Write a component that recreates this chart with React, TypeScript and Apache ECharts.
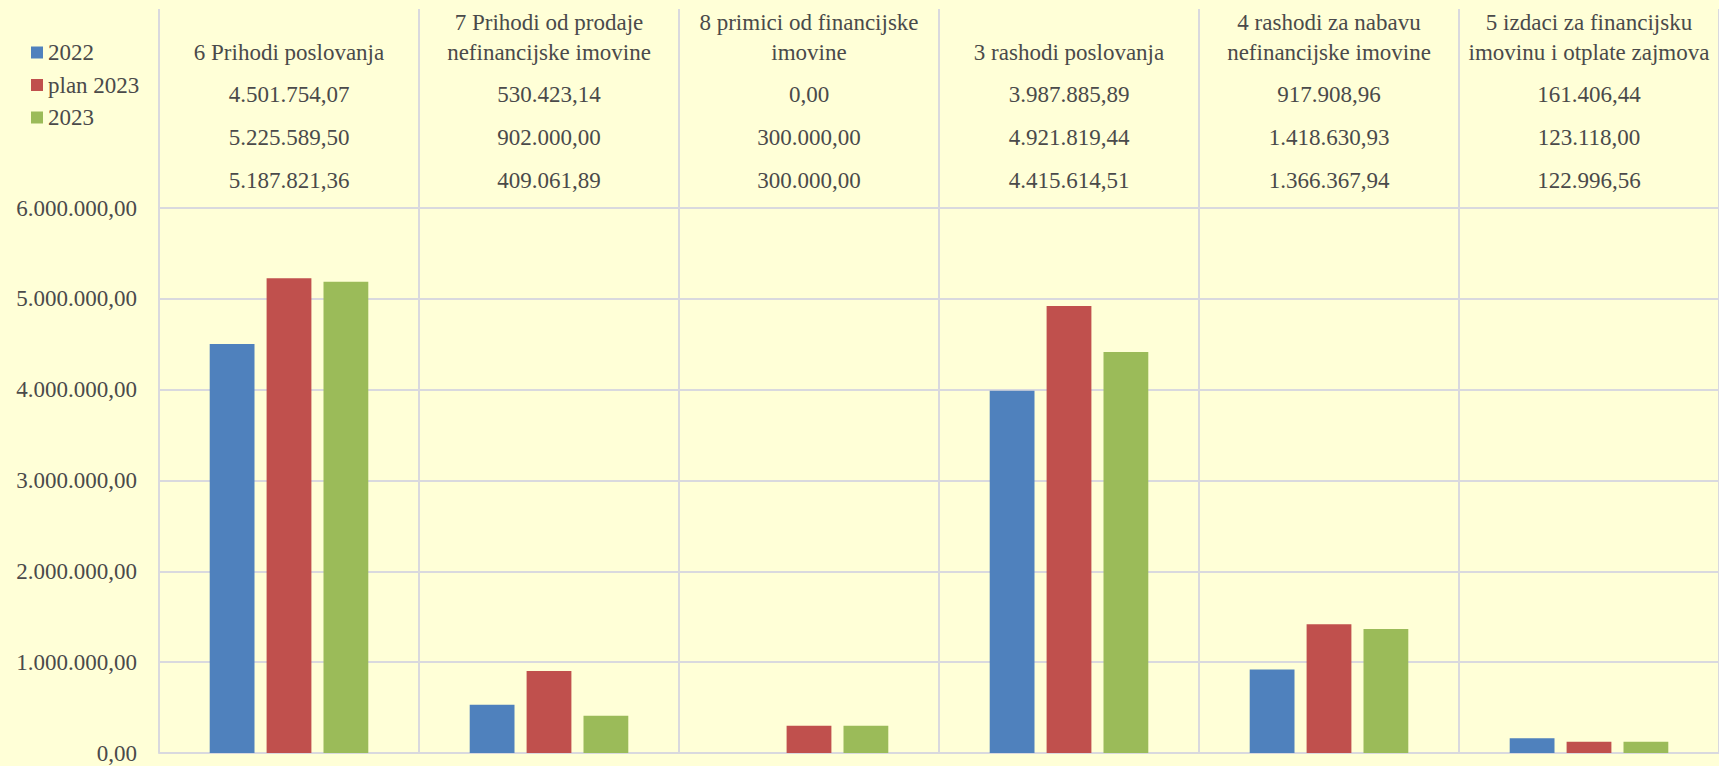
import React, { useEffect, useRef } from "react";
import * as echarts from "echarts";

const categories = [
  "6 Prihodi poslovanja",
  "7 Prihodi od prodaje\nnefinancijske imovine",
  "8 primici od financijske\nimovine",
  "3 rashodi poslovanja",
  "4 rashodi za nabavu\nnefinancijske imovine",
  "5 izdaci za financijsku\nimovinu i otplate zajmova",
];
const seriesNames = ["2022", "plan 2023", "2023"];
const values2022 = [4501754.07, 530423.14, 0, 3987885.89, 917908.96, 161406.44];
const valuesPlan2023 = [5225589.5, 902000.0, 300000.0, 4921819.44, 1418630.93, 123118.0];
const values2023 = [5187821.36, 409061.89, 300000.0, 4415614.51, 1366367.94, 122996.56];
const colors = ["#4F81BD", "#C0504D", "#9BBB59"];

const W = 1719;
const H = 766;
const GRID_LEFT = 159;
const GRID_RIGHT = 0;
const GRID_TOP = 208;
const GRID_BOTTOM = 13;
const FONT = "Liberation Serif";
const TEXT_COLOR = "#4a4a4a";
const LINE_COLOR = "#D9D9DE";
const FS = 23;

function fmt(v: number): string {
  const [i, d] = v.toFixed(2).split(".");
  return i.replace(/\B(?=(\d{3})+(?!\d))/g, ".") + "," + d;
}

export default function App() {
  const ref = useRef<HTMLDivElement>(null);
  useEffect(() => {
    if (!ref.current) return;
    const chart = echarts.init(ref.current, undefined, { renderer: "svg" });
    const allSeries = [values2022, valuesPlan2023, values2023];
    const catW = (W - GRID_LEFT - GRID_RIGHT) / categories.length;
    const graphics: any[] = [];
    for (let i = 0; i <= categories.length; i++) {
      const x = GRID_LEFT + i * catW;
      graphics.push({
        type: "line",
        shape: { x1: x, y1: 9, x2: x, y2: GRID_TOP },
        style: { stroke: LINE_COLOR, lineWidth: 2 },
        silent: true,
      });
    }
    const rowY = [94.5, 137, 180];
    categories.forEach((c, i) => {
      const cx = GRID_LEFT + (i + 0.5) * catW;
      graphics.push({
        type: "text",
        x: cx,
        y: 67,
        style: {
          text: c,
          fontFamily: FONT,
          fontSize: FS,
          fill: TEXT_COLOR,
          align: "center",
          verticalAlign: "bottom",
          lineHeight: 30,
        },
      });
      allSeries.forEach((s, r) => {
        graphics.push({
          type: "text",
          x: cx,
          y: rowY[r],
          style: {
            text: fmt(s[i]),
            fontFamily: FONT,
            fontSize: FS,
            fill: TEXT_COLOR,
            align: "center",
            verticalAlign: "middle",
          },
        });
      });
    });

    chart.setOption({
      animation: false,
      backgroundColor: "#FFFFD7",
      color: colors,
      textStyle: { fontFamily: FONT },
      grid: { left: GRID_LEFT, right: GRID_RIGHT, top: GRID_TOP, bottom: GRID_BOTTOM, containLabel: false },
      legend: {
        orient: "vertical",
        left: 26,
        top: 36,
        itemWidth: 12,
        itemHeight: 12,
        itemGap: 9.5,
        icon: "rect",
        data: seriesNames,
        textStyle: { fontFamily: FONT, fontSize: FS, color: TEXT_COLOR },
      },
      xAxis: {
        type: "category",
        data: categories,
        axisTick: { show: false },
        axisLabel: { show: false },
        axisLine: { show: true, lineStyle: { color: LINE_COLOR, width: 2 } },
        splitLine: { show: true, lineStyle: { color: LINE_COLOR, width: 2 } },
      },
      yAxis: {
        type: "value",
        min: 0,
        max: 6000000,
        interval: 1000000,
        axisLine: { show: false },
        axisTick: { show: false },
        axisLabel: {
          formatter: (v: number) => fmt(v),
          fontFamily: FONT,
          fontSize: FS,
          color: TEXT_COLOR,
          margin: 22,
        },
        splitLine: { lineStyle: { color: LINE_COLOR, width: 2 } },
      },
      series: allSeries.map((s, k) => ({
        name: seriesNames[k],
        type: "bar",
        data: s,
        barGap: "27%",
        barCategoryGap: "39%",
      })),
      graphic: graphics,
    });
    return () => chart.dispose();
  }, []);
  return (
    <div
      ref={ref}
      style={{ position: "fixed", left: 0, top: 0, width: W, height: H }}
    />
  );
}
